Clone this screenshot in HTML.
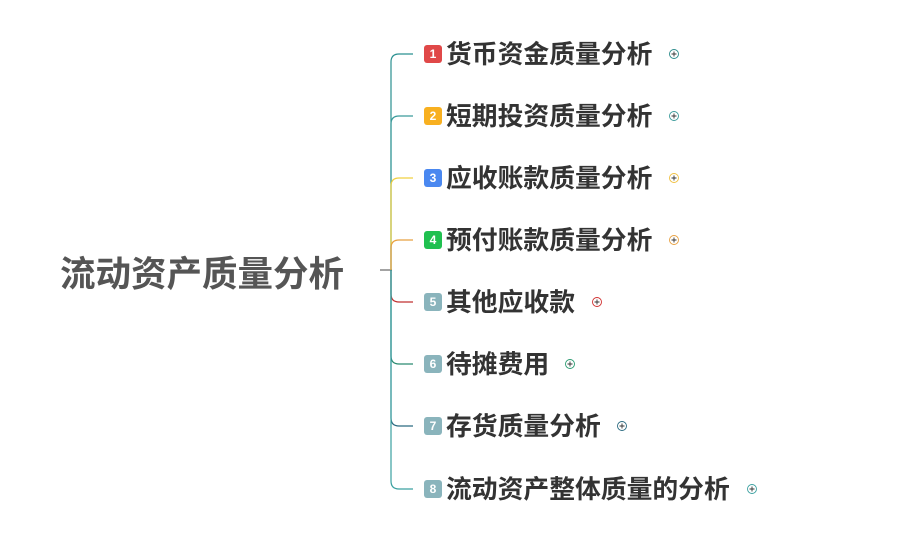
<!DOCTYPE html>
<html><head><meta charset="utf-8"><style>
body{margin:0;width:921px;height:537px;background:#fff;overflow:hidden;position:relative;font-family:"Liberation Sans","Noto Sans CJK SC",sans-serif}
.t{position:absolute;left:446px;font-size:25.8px;font-weight:bold;color:#333;line-height:30px;white-space:nowrap}
.b{position:absolute;left:424px;width:18px;height:18px;border-radius:3px;color:#fff;font-size:12px;font-weight:bold;text-align:center;line-height:18px}
.root{position:absolute;left:60px;top:254px;font-size:35.5px;font-weight:bold;color:#555;line-height:40px;white-space:nowrap}
</style></head><body>
<svg width="921" height="537" style="position:absolute;left:0;top:0" fill="none" stroke-width="1.2">
<line x1="380" y1="270" x2="392" y2="270" stroke="#666"/>
<path d="M391 270 V62 Q391 54 399 54 H413" stroke="#2a9090"/>
<path d="M391 270 V124 Q391 116 399 116 H413" stroke="#3a9a9a"/>
<path d="M391 270 V186 Q391 178 399 178 H413" stroke="#f0d040"/>
<path d="M391 270 V248 Q391 240 399 240 H413" stroke="#e8a040"/>
<path d="M391 270 V294 Q391 302 399 302 H413" stroke="#c03030"/>
<path d="M391 270 V356 Q391 364 399 364 H413" stroke="#2a8a70"/>
<path d="M391 270 V418 Q391 426 399 426 H413" stroke="#2a6a80"/>
<path d="M391 270 V481 Q391 489 399 489 H413" stroke="#3aa0a0"/>
<g stroke-width="0.9">
<circle cx="674" cy="54" r="4.5" stroke="#2a8a8a"/><path d="M671.5 54h5M674 51.5v5" stroke="#333"/>
<circle cx="674" cy="116" r="4.5" stroke="#3a9a9a"/><path d="M671.5 116h5M674 113.5v5" stroke="#333"/>
<circle cx="674" cy="178" r="4.5" stroke="#f0c040"/><path d="M671.5 178h5M674 175.5v5" stroke="#333"/>
<circle cx="674" cy="240" r="4.5" stroke="#e8a040"/><path d="M671.5 240h5M674 237.5v5" stroke="#333"/>
<circle cx="597" cy="302" r="4.5" stroke="#d03030"/><path d="M594.5 302h5M597 299.5v5" stroke="#333"/>
<circle cx="570" cy="364" r="4.5" stroke="#2a9a70"/><path d="M567.5 364h5M570 361.5v5" stroke="#333"/>
<circle cx="622" cy="426" r="4.5" stroke="#2a6a80"/><path d="M619.5 426h5M622 423.5v5" stroke="#333"/>
<circle cx="752" cy="489" r="4.5" stroke="#3aa0a0"/><path d="M749.5 489h5M752 486.5v5" stroke="#333"/>
</g>
</svg>
<div class="root">流动资产质量分析</div>
<div class="b" style="top:45px;background:#e04848">1</div><div class="t" style="top:40px">货币资金质量分析</div>
<div class="b" style="top:107px;background:#f8b020">2</div><div class="t" style="top:102px">短期投资质量分析</div>
<div class="b" style="top:169px;background:#4a88f0">3</div><div class="t" style="top:164px">应收账款质量分析</div>
<div class="b" style="top:231px;background:#20c050">4</div><div class="t" style="top:226px">预付账款质量分析</div>
<div class="b" style="top:293px;background:#8ab4bc">5</div><div class="t" style="top:288px">其他应收款</div>
<div class="b" style="top:355px;background:#8ab4bc">6</div><div class="t" style="top:350px">待摊费用</div>
<div class="b" style="top:417px;background:#8ab4bc">7</div><div class="t" style="top:412px">存货质量分析</div>
<div class="b" style="top:480px;background:#8ab4bc">8</div><div class="t" style="top:475px">流动资产整体质量的分析</div>
</body></html>
